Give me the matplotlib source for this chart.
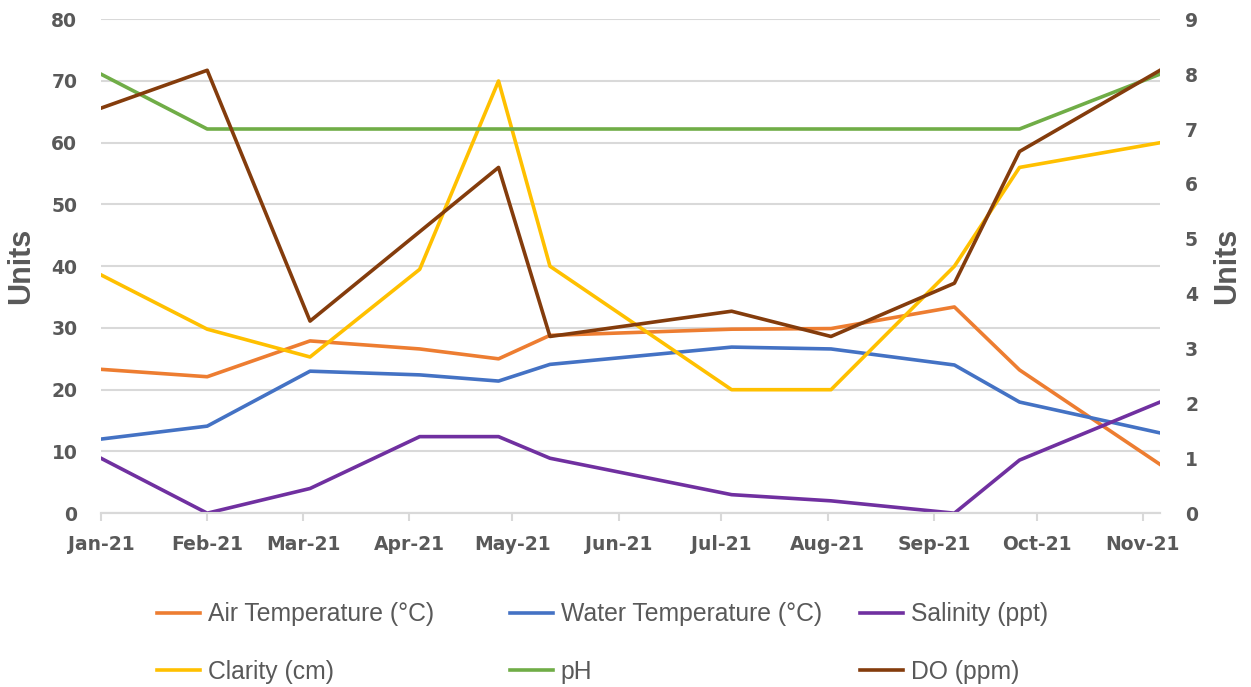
import matplotlib
matplotlib.use("Agg")
import matplotlib.pyplot as plt
import matplotlib.dates as mdates
import numpy as np
from datetime import datetime

# sample dates
dates = [datetime(2021, 1, 1), datetime(2021, 2, 1), datetime(2021, 3, 3),
         datetime(2021, 4, 4), datetime(2021, 4, 27), datetime(2021, 5, 12),
         datetime(2021, 7, 4), datetime(2021, 8, 2), datetime(2021, 9, 7),
         datetime(2021, 9, 26), datetime(2021, 11, 6)]

# left axis series
air_temp = [23.3, 22.1, 27.9, 26.6, 25.0, 28.8, 29.8, 29.9, 33.4, 23.2, 7.9]
water_temp = [12.0, 14.1, 23.0, 22.4, 21.4, 24.1, 26.9, 26.6, 24.0, 18.0, 13.0]
salinity = [8.9, 0.0, 4.0, 12.4, 12.4, 8.9, 3.0, 2.0, 0.0, 8.6, 18.0]
clarity = [38.6, 29.8, 25.3, 39.5, 70.0, 40.0, 20.0, 20.0, 40.0, 56.0, 60.0]

# right axis series (DO has no reading on the Apr 4 sample)
ph = [8.0, 7.0, 7.0, 7.0, 7.0, 7.0, 7.0, 7.0, 7.0, 7.0, 8.0]
do_ppm = [7.38, 8.07, 3.50, np.nan, 6.30, 3.22, 3.68, 3.22, 4.19, 6.59, 8.07]

GRAY = "#595959"
GRID = "#D9D9D9"
FONT = ["Liberation Sans", "DejaVu Sans"]

fig = plt.figure(figsize=(12.51, 6.87), dpi=100)
ax = fig.add_axes([0.0807, 0.253, 0.8466, 0.719])
ax2 = ax.twinx()

lw = 2.6
l_air, = ax.plot(dates, air_temp, color="#ED7D31", lw=lw, label="Air Temperature (°C)")
l_wat, = ax.plot(dates, water_temp, color="#4472C4", lw=lw, label="Water Temperature (°C)")
l_sal, = ax.plot(dates, salinity, color="#7030A0", lw=lw, label="Salinity (ppt)")
l_cla, = ax.plot(dates, clarity, color="#FFC000", lw=lw, label="Clarity (cm)")

do_dates = [d for d, v in zip(dates, do_ppm) if not np.isnan(v)]
do_vals = [v for v in do_ppm if not np.isnan(v)]
l_ph, = ax2.plot(dates, ph, color="#70AD47", lw=lw, label="pH")
l_do, = ax2.plot(do_dates, do_vals, color="#843C0C", lw=lw, label="DO (ppm)")

ax.set_xlim(dates[0], dates[-1])
ax.set_ylim(0, 80)
ax2.set_ylim(0, 9)
ax.set_yticks(np.arange(0, 81, 10))
ax2.set_yticks(np.arange(0, 10, 1))

ax.xaxis.set_major_locator(mdates.MonthLocator())
ax.xaxis.set_major_formatter(mdates.DateFormatter("%b-%y"))

ax.grid(axis="y", color=GRID, lw=1.5)
ax.set_axisbelow(True)
for a in (ax, ax2):
    for s in ("top", "left", "right"):
        a.spines[s].set_visible(False)
    a.spines["bottom"].set_color(GRID)
    a.spines["bottom"].set_linewidth(1.5)

ax.tick_params(axis="x", direction="out", length=6, width=1.5, color=GRID,
               pad=10, labelsize=13.5, labelcolor=GRAY)
ax.tick_params(axis="y", length=0, pad=17, labelsize=13.5, labelcolor=GRAY)
ax2.tick_params(axis="y", length=0, pad=18, labelsize=13.5, labelcolor=GRAY)
for lab in ax.get_xticklabels() + ax.get_yticklabels() + ax2.get_yticklabels():
    lab.set_fontweight("bold")

ax.set_ylabel("Units", family=FONT, fontsize=22, fontweight="bold", color=GRAY, labelpad=11)
ax2.set_ylabel("Units", family=FONT, fontsize=22, fontweight="bold", color=GRAY, labelpad=10)

# legend: three columns of two rows, placed like the original
columns = [([l_air, l_cla], 157), ([l_wat, l_ph], 510), ([l_sal, l_do], 860)]
for hs, x0 in columns:
    leg = fig.legend(handles=hs, loc="center left", bbox_to_anchor=(x0 / 1251, 1 - 643 / 687),
                     frameon=False, prop={"family": FONT, "size": 17.8}, borderpad=0,
                     borderaxespad=0, handlelength=1.75, handletextpad=0.3, labelspacing=1.35)
    for t in leg.get_texts():
        t.set_color(GRAY)

fig.savefig("out.png", dpi=100)
